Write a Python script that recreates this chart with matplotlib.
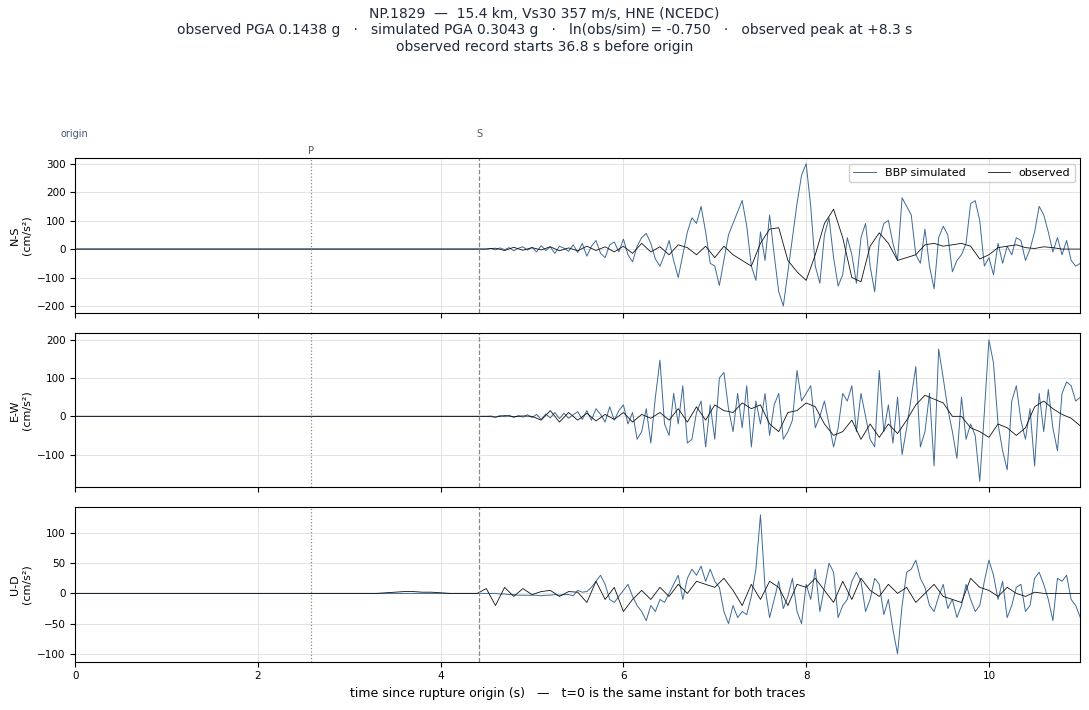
import numpy as np
import matplotlib as mpl; mpl.use("Agg")
import matplotlib.pyplot as plt

SIM_C = "#3d6a96"
OBS_C = "#111111"
T_P, T_S = 2.58, 4.42

# simulated traces, dt = 0.05 s starting at 4.5 s (cm/s^2)
sim_ns = [0,2,-3,4,-2,5,-6,3,8,-4, 6,-10,12,-5,8,-15,10,3,-8,15,
          -12,20,-25,10,30,-15,-30,15,25,-10, 35,-20,-45,10,40,55,20,-35,-60,-20,
          30,-40,-100,-20,60,110,90,150,60,-50, -60,-128,-40,50,90,130,171,80,-60,-110,
          60,-40,120,-20,-150,-200,-80,40,160,260, 300,150,-60,-120,50,110,-30,-130,-90,40,
          -20,-120,40,90,-60,-150,30,90,100,20, -40,180,150,120,-20,-50,70,-60,-140,40,
          80,50,-80,-40,-20,20,160,170,100,-60, -30,-90,20,-50,10,-20,40,30,-40,0,
          60,150,120,60,-10,40,-20,30,-40,-60,-50]
sim_ew = [0,1,-2,2,-1,3,-3,2,-2,4, -3,5,-8,6,-4,10,-6,8,-5,4,
          12,-8,15,-10,20,5,-15,25,-10,15, 30,-20,10,-60,-40,20,-70,50,147,-20,
          -50,60,-20,80,-70,-60,10,40,-80,30, -60,100,115,20,-40,60,-30,80,-80,40,
          -20,60,-50,30,60,-60,-40,-10,120,40, 60,80,-30,0,40,-20,-80,-30,60,40,
          80,-40,60,0,-60,-80,120,-40,30,-70, 50,-100,-30,50,130,-80,-40,60,-130,176,
          100,20,-40,-110,50,-60,-20,-50,-170,10, 200,140,-20,-90,-140,40,80,-10,-60,20,
          -130,60,-40,70,-30,-90,60,90,80,40,50]
sim_ud = [0,0,0,-1,-1,-2,-2,-3,-3,-3, -3,-3,-4,-3,-3,-2,-3,-2,-2,-4,
          5,2,3,10,20,30,15,-10,-15,-5, 5,15,-5,-20,-30,-45,-20,-30,-10,-15,
          0,15,30,-10,25,40,30,45,20,40, 20,10,-30,-50,-20,-40,-30,-35,-5,40,
          130,10,-40,-10,20,-25,-5,25,-30,-50, 15,-10,40,-30,10,50,35,-40,-20,-10,
          20,35,20,-30,-10,25,15,-35,-10,-60, -100,-20,35,40,55,25,10,-20,-30,-5,
          15,-25,-10,-40,-20,15,-10,-30,-20,20, 55,30,-10,20,-40,-20,10,15,-30,-20,
          25,35,15,-10,-45,25,20,30,-10,-20,-40]

# observed traces, dt = 0.1 s starting at 4.5 s (U-D from 3.0 s)
obs_ns = [0,3,-5,6,-4, 5,-3,8,-6,4, -6,10,-5,8,-10, 10,-15,20,-10,8,
          -20,15,5,-20,10, -30,10,-20,-40,-60, 20,70,75,-40,-80, -110,-20,90,140,40,
          -100,-115,10,57,20, -40,-30,-20,15,20, 10,15,20,10,-35, -20,5,10,15,5,
          2,8,5,0,0,0]
obs_ew = [0,-2,2,-1,1, 0,-10,15,-15,10, -10,8,-12,5,-8, 10,-15,5,-5,10,
          -10,20,-15,25,-10, 30,15,10,35,20, 30,-20,-40,10,15, 35,25,-20,-50,-40,
          -10,-60,-20,-55,-20, -45,-10,30,55,45, 35,0,0,-30,-40, -55,-20,-30,-50,-30,
          25,40,20,5,-5,-25]
obs_ud = [0,0,0,0,1,2,3,3,2,2,1,0,0,0,0,
          8,-20,10,-5,8, -2,3,5,-5,3, 2,-15,20,-10,10, -30,-10,5,-10,10,
          -5,15,0,20,15, 10,25,5,-20,15, -10,20,10,-20,15, 10,25,5,-15,20,
          -10,25,5,-5,15, 0,10,-15,0,15, -5,-10,-15,25,10, 5,-5,10,0,-5,
          2,0,0,0,0,0]

comps = ["N-S", "E-W", "U-D"]
ylims = [(-225, 320), (-185, 218), (-113, 143)]
yticks = [[-200, -100, 0, 100, 200, 300], [-100, 0, 100, 200], [-100, -50, 0, 50, 100]]

def series(vals, t0, dt):
    t = t0 + dt * np.arange(len(vals))
    return np.r_[0.0, t], np.r_[0.0, vals]

sims = [series(sim_ns, 4.5, 0.05), series(sim_ew, 4.5, 0.05), series(sim_ud, 4.5, 0.05)]
obss = [series(obs_ns, 4.5, 0.1), series(obs_ew, 4.5, 0.1), series(obs_ud, 3.0, 0.1)]

fig = plt.figure(figsize=(10.89, 7.10), dpi=100)
boxes = [(0.559, 0.7775), (0.314, 0.531), (0.068, 0.286)]
axes = []
for i, (b, t) in enumerate(boxes):
    ax = fig.add_axes([0.069, b, 0.923, t - b])
    axes.append(ax)
    ts, vs = sims[i]
    to, vo = obss[i]
    ax.plot(ts, vs, color=SIM_C, lw=0.7, label="BBP simulated")
    ax.plot(to, vo, color=OBS_C, lw=0.6, label="observed")
    ax.axvline(T_P, color="#888888", ls=":", lw=0.9)
    ax.axvline(T_S, color="#888888", ls="--", lw=0.9)
    ax.set_xlim(0, 11)
    ax.set_ylim(*ylims[i])
    ax.set_yticks(yticks[i])
    ax.set_xticks([0, 2, 4, 6, 8, 10])
    ax.grid(color="#e3e3e3", lw=0.7)
    ax.tick_params(labelsize=7.5)
    ax.set_ylabel(f"{comps[i]}\n(cm/s²)", fontsize=8)
    if i < 2:
        ax.tick_params(labelbottom=False)

axes[0].legend(loc="upper right", ncol=2, fontsize=8, framealpha=0.9)
axes[2].set_xlabel("time since rupture origin (s)   —   t=0 is the same instant for both traces", fontsize=9)

ax = axes[0]
ax.text(-0.015, 1.12, "origin", transform=ax.transAxes, fontsize=7, color="#445577", va="bottom")
ax.text(T_S, 1.12, "S", transform=ax.get_xaxis_transform(), fontsize=7, color="#555555", ha="center", va="bottom")
ax.text(T_P, 1.01, "P", transform=ax.get_xaxis_transform(), fontsize=7, color="#555555", ha="center", va="bottom")

fig.text(0.5, 0.99,
         "NP.1829  —  15.4 km, Vs30 357 m/s, HNE (NCEDC)\n"
         "observed PGA 0.1438 g   ·   simulated PGA 0.3043 g   ·   ln(obs/sim) = -0.750   ·   observed peak at +8.3 s\n"
         "observed record starts 36.8 s before origin",
         ha="center", va="top", fontsize=10, color="#1f2a3a", linespacing=1.2)

fig.savefig("out.png", dpi=100, facecolor="white")
